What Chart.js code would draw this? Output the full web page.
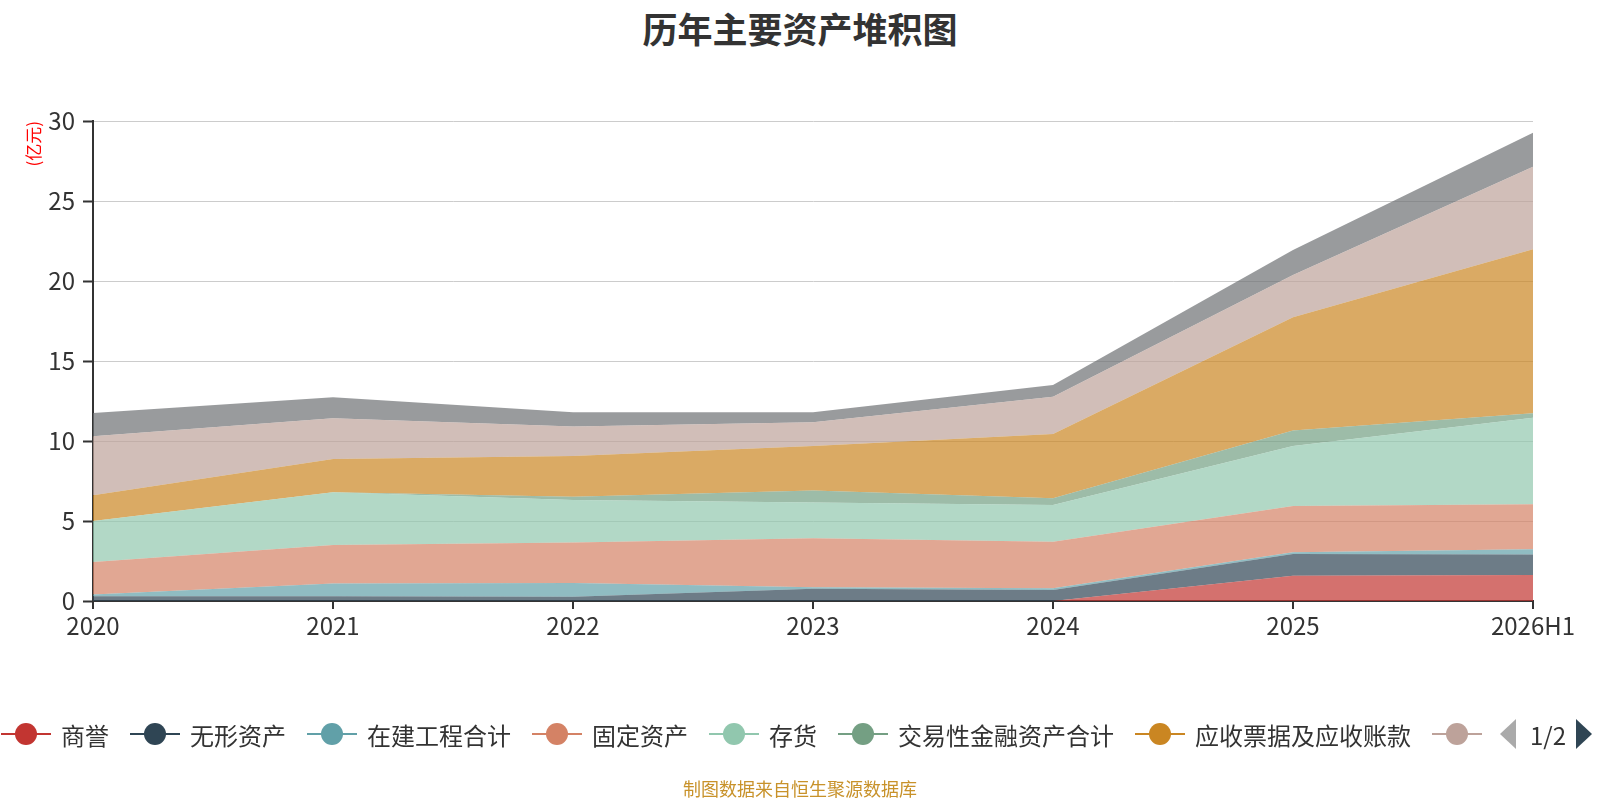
<!DOCTYPE html>
<html lang="zh">
<head>
    <meta charset="UTF-8">
    <title>历年主要资产堆积图</title>
    <script src="https://cdn.jsdelivr.net/npm/chart.js"></script>
    <style>
        * {
            box-sizing: border-box;
            margin: 0;
            padding: 0;
        }

        body {
            width: 1600px;
            height: 800px;
            background: #fff;
            position: relative;
            overflow: hidden;
            font-family: "Noto Sans CJK SC", "Noto Sans", sans-serif;
        }

        #wrap {
            position: absolute;
            left: 0;
            top: 0;
            width: 1600px;
            height: 800px;
        }

        h1 {
            position: absolute;
            top: 2px;
            left: 0;
            width: 1600px;
            text-align: center;
            font-size: 35px;
            font-weight: bold;
            color: #333;
        }

        #legend {
            position: absolute;
            left: 1px;
            top: 717px;
            width: 1486px;
            height: 34px;
            overflow: hidden;
            display: flex;
            align-items: center;
            white-space: nowrap;
        }

        .item {
            display: flex;
            align-items: center;
            margin-right: 21px;
            flex-shrink: 0;
        }

        .mark {
            position: relative;
            width: 50px;
            height: 24px;
        }

        .mark .ln {
            position: absolute;
            left: 0;
            top: 11px;
            width: 50px;
            height: 2px;
        }

        .mark .dot {
            position: absolute;
            left: 14px;
            top: 1px;
            width: 22px;
            height: 22px;
            border-radius: 50%;
        }

        .item span.txt {
            margin-left: 10px;
            font-size: 24px;
            color: #333;
        }

        #pager {
            position: absolute;
            left: 1500px;
            top: 717px;
            height: 34px;
            display: flex;
            align-items: center;
        }

        .tri-l {
            width: 0;
            height: 0;
            border-top: 15px solid transparent;
            border-bottom: 15px solid transparent;
            border-right: 16px solid #aaa;
        }

        .tri-r {
            width: 0;
            height: 0;
            border-top: 15px solid transparent;
            border-bottom: 15px solid transparent;
            border-left: 16px solid #2f4554;
        }

        #pager span {
            font-size: 24px;
            color: #333;
            margin: 0 10px 0 14px;
        }

        #source {
            position: absolute;
            left: 0;
            top: 775px;
            width: 1600px;
            text-align: center;
            font-size: 18px;
            color: #c8922a;
        }
    </style>
</head>
<body>

    <h1>历年主要资产堆积图</h1>

    <div id="wrap">
        <canvas id="grafico"></canvas>
    </div>

    <div id="legend"></div>
    <div id="pager">
        <div class="tri-l"></div>
        <span>1/2</span>
        <div class="tri-r"></div>
    </div>

    <div id="source">制图数据来自恒生聚源数据库</div>

    <script>
        // 年份
        const anos = ['2020', '2021', '2022', '2023', '2024', '2025', '2026H1'];

        // 各项资产 (亿元), 自下而上堆叠
        const shangyu = [0, 0, 0, 0, 0, 1.58, 1.63];
        const wuxing = [0.3, 0.3, 0.26, 0.77, 0.69, 1.36, 1.27];
        const zaijian = [0.1, 0.8, 0.86, 0.09, 0.1, 0.1, 0.33];
        const guding = [2.04, 2.4, 2.53, 3.06, 2.92, 2.9, 2.81];
        const cunhuo = [2.56, 3.29, 2.66, 2.23, 2.29, 3.75, 5.42];
        const jiaoyi = [0, 0, 0.21, 0.75, 0.42, 0.96, 0.27];
        const yingshou = [1.61, 2.09, 2.54, 2.79, 4.02, 7.08, 10.25];
        const huobi = [3.68, 2.54, 1.84, 1.48, 2.33, 2.65, 5.16];
        const qita = [1.46, 1.31, 0.89, 0.62, 0.73, 1.56, 2.13];

        const nomes = ['商誉', '无形资产', '在建工程合计', '固定资产', '存货',
            '交易性金融资产合计', '应收票据及应收账款', '货币资金', '其他'];
        const valores = [shangyu, wuxing, zaijian, guding, cunhuo, jiaoyi, yingshou, huobi, qita];
        const cores = ['#c23531', '#2f4554', '#61a0a8', '#d48265', '#91c7ae',
            '#749f83', '#ca8622', '#bda29a', '#6e7074'];

        function alpha(hex, a) {
            let r = parseInt(hex.slice(1, 3), 16);
            let g = parseInt(hex.slice(3, 5), 16);
            let b = parseInt(hex.slice(5, 7), 16);
            return 'rgba(' + r + ',' + g + ',' + b + ',' + a + ')';
        }

        const datasets = nomes.map((n, i) => ({
            label: n,
            data: valores[i],
            fill: i === 0 ? 'origin' : '-1',
            backgroundColor: alpha(cores[i], 0.7),
            borderColor: cores[i],
            borderWidth: 0,
            pointRadius: 0,
            tension: 0
        }));

        const fonte = '"Noto Sans CJK SC", "Noto Sans", sans-serif';

        let ctx = document.getElementById('grafico').getContext('2d');
        let grafico = new Chart(ctx, {
            type: 'line',
            data: { labels: anos, datasets: datasets },
            options: {
                responsive: true,
                maintainAspectRatio: false,
                animation: false,
                layout: {
                    padding: { left: 20, top: 121, right: 67, bottom: 159 }
                },
                plugins: {
                    legend: { display: false },
                    tooltip: { enabled: false }
                },
                scales: {
                    x: {
                        offset: false,
                        grid: {
                            drawOnChartArea: false,
                            tickLength: 8,
                            color: '#333',
                            lineWidth: 2
                        },
                        border: { color: '#333', width: 2 },
                        ticks: {
                            color: '#333',
                            font: { family: fonte, size: 24 },
                            padding: 2,
                            maxRotation: 0,
                            autoSkip: false
                        },
                        afterFit: s => { s.height = 40; }
                    },
                    y: {
                        stacked: true,
                        min: 0,
                        max: 30,
                        ticks: {
                            stepSize: 5,
                            color: '#333',
                            font: { family: fonte, size: 24 },
                            padding: 8
                        },
                        grid: {
                            color: '#ccc',
                            lineWidth: 1,
                            tickLength: 10,
                            tickColor: '#333',
                            tickWidth: 2
                        },
                        border: { color: '#333', width: 2 },
                        title: {
                            display: true,
                            text: '(亿元)',
                            align: 'end',
                            color: '#ff0000',
                            font: { family: fonte, size: 17 },
                            padding: { top: 3, bottom: 0 }
                        },
                        afterFit: s => { s.width = 73; }
                    }
                }
            }
        });

        // 图例 (第一页), 第八项文字被分页遮住
        const leg = document.getElementById('legend');
        nomes.slice(0, 8).forEach((n, i) => {
            let it = document.createElement('div');
            it.className = 'item';
            let txt = i < 7 ? '<span class="txt">' + n + '</span>' : '';
            it.innerHTML = '<div class="mark"><div class="ln" style="background:' + cores[i] +
                '"></div><div class="dot" style="background:' + cores[i] +
                '"></div></div>' + txt;
            leg.appendChild(it);
        });
    </script>

</body>
</html>
